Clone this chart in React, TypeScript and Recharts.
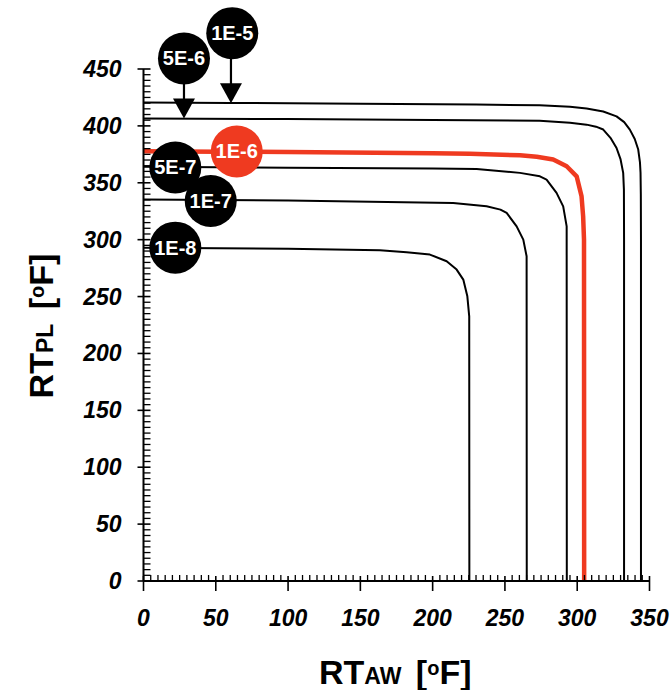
import React from 'react';
import { ComposedChart, Line, Scatter, XAxis, YAxis } from 'recharts';

// Limit curves: RT_PL versus RT_AW, one curve per frequency level
const curve1E5 = [
  { x: 0, y: 420.5 }, { x: 60, y: 420.2 }, { x: 150, y: 419.5 }, { x: 230, y: 418.8 },
  { x: 274, y: 418.1 }, { x: 295, y: 416.8 }, { x: 306.5, y: 415.2 }, { x: 318, y: 412.6 },
  { x: 327.2, y: 408.4 }, { x: 332.5, y: 403.3 }, { x: 336.4, y: 396.7 }, { x: 339.8, y: 388.5 },
  { x: 342.2, y: 379.2 }, { x: 343.4, y: 368 }, { x: 343.8, y: 358.7 }, { x: 344, y: 340 },
  { x: 344.1, y: 300 }, { x: 344.1, y: 0 },
];
const curve5E6 = [
  { x: 0, y: 406.4 }, { x: 100, y: 406 }, { x: 200, y: 405.2 }, { x: 274, y: 404.6 },
  { x: 295, y: 402.7 }, { x: 306.5, y: 401.1 }, { x: 313, y: 399.3 }, { x: 318, y: 396.8 },
  { x: 323.3, y: 389 }, { x: 327.2, y: 380.6 }, { x: 330, y: 370.5 }, { x: 331.8, y: 358.7 },
  { x: 332.3, y: 344 }, { x: 332.4, y: 300 }, { x: 332.4, y: 0 },
];
const curve1E6 = [
  { x: 0, y: 377.7 }, { x: 100, y: 377 }, { x: 200, y: 376 }, { x: 225.8, y: 375.6 },
  { x: 260.4, y: 374.1 }, { x: 272, y: 372.8 }, { x: 283.4, y: 370.4 }, { x: 292.7, y: 364.5 },
  { x: 299.6, y: 355.7 }, { x: 303, y: 338.1 }, { x: 304.1, y: 320.5 }, { x: 304.7, y: 300 },
  { x: 304.8, y: 0 },
];
const curve5E7 = [
  { x: 0, y: 364 }, { x: 100, y: 363.3 }, { x: 200, y: 362.6 }, { x: 230.4, y: 362.2 },
  { x: 260.4, y: 358.7 }, { x: 274.2, y: 355.7 }, { x: 278.8, y: 352.8 }, { x: 285.7, y: 341.1 },
  { x: 290.3, y: 329.3 }, { x: 292.7, y: 311.7 }, { x: 292.8, y: 0 },
];
const curve1E7 = [
  { x: 0, y: 335.2 }, { x: 100, y: 334.5 }, { x: 214.2, y: 332.3 }, { x: 237.3, y: 329.3 },
  { x: 246.9, y: 326.4 }, { x: 251.2, y: 323.5 }, { x: 258.1, y: 311.7 }, { x: 262.7, y: 300 },
  { x: 265, y: 285.4 }, { x: 265.1, y: 0 },
];
const curve1E8 = [
  { x: 0, y: 293 }, { x: 100, y: 292 }, { x: 163.5, y: 290.6 }, { x: 182, y: 288.9 },
  { x: 198.1, y: 286.9 }, { x: 209.7, y: 281 }, { x: 216.6, y: 273.7 }, { x: 221.2, y: 264.9 },
  { x: 224, y: 250.2 }, { x: 225.3, y: 232.6 }, { x: 225.4, y: 0 },
];

// Curve labels and the point on each curve they mark
const badgeLabels = ['1E-5', '5E-6', '1E-6', '5E-7', '1E-7', '1E-8'];
const badgeX = [60.5, 28, 64.5, 22, 46.5, 22];
const badgeY = [420, 406.5, 377.5, 363.5, 334, 293];

const xMajorTicks = [0, 50, 100, 150, 200, 250, 300, 350];
const yMajorTicks = [0, 50, 100, 150, 200, 250, 300, 350, 400, 450];
const minorStep = 5;

const xTicks = Array.from({ length: 350 / minorStep + 1 }, (_, i) => i * minorStep);
const yTicks = Array.from({ length: 450 / minorStep + 1 }, (_, i) => i * minorStep);

const RED = '#ef3a20';
const FONT = '"Liberation Sans", Arial, Helvetica, sans-serif';

const badges = badgeLabels.map((label, i) => ({ x: badgeX[i], y: badgeY[i], label }));

// Badges drawn with a pointer arrow rise above the curve (pixels)
const arrowRise: Record<string, number> = { '1E-5': 70, '5E-6': 60 };

const XTick = (props: any) => {
  const { x, y, payload } = props;
  const v = payload.value;
  if (xMajorTicks.includes(v)) {
    return (
      <g>
        <line x1={x} x2={x} y1={y - 5} y2={y + 10} stroke="#000" strokeWidth={1.6} />
        <text x={x} y={y + 45} textAnchor="middle" fontFamily={FONT} fontWeight="bold"
          fontStyle="italic" fontSize={23} fill="#000">{v}</text>
      </g>
    );
  }
  return <line x1={x} x2={x} y1={y} y2={y - 6} stroke="#000" strokeWidth={1.3} />;
};

const YTick = (props: any) => {
  const { x, y, payload } = props;
  const v = payload.value;
  if (yMajorTicks.includes(v)) {
    return (
      <g>
        <line x1={x - 6} x2={x + 7} y1={y} y2={y} stroke="#000" strokeWidth={1.6} />
        <text x={x - 22} y={y + 8} textAnchor="end" fontFamily={FONT} fontWeight="bold"
          fontStyle="italic" fontSize={23} fill="#000">{v}</text>
      </g>
    );
  }
  return <line x1={x} x2={x + 7} y1={y} y2={y} stroke="#000" strokeWidth={1.3} />;
};

const Badge = (props: any) => {
  const { cx, cy, payload } = props;
  if (cx == null || cy == null) return <g />;
  const label: string = payload.label;
  const red = label === '1E-6';
  const rise = arrowRise[label];
  const r = 26;
  if (rise) {
    const ccx = cx + (label === '1E-5' ? 1.3 : 0);
    const ccy = cy - rise;
    return (
      <g>
        <line x1={cx} x2={cx} y1={ccy} y2={cy - 18} stroke="#000" strokeWidth={2.2} />
        <polygon points={`${cx - 11},${cy - 20} ${cx + 11},${cy - 20} ${cx},${cy}`} fill="#000" />
        <circle cx={ccx} cy={ccy} r={r} fill="#000" />
        <text x={ccx} y={ccy + 7} textAnchor="middle" fontFamily={FONT} fontWeight="bold"
          fontSize={20} fill="#fff">{label}</text>
      </g>
    );
  }
  return (
    <g>
      <circle cx={cx} cy={cy} r={r} fill={red ? RED : '#000'} />
      <text x={cx} y={cy + 7} textAnchor="middle" fontFamily={FONT} fontWeight="bold"
        fontSize={20} fill="#fff">{label}</text>
    </g>
  );
};

const XTitle = () => (
  <text x={319} y={684} fontFamily={FONT} fontWeight="bold" fontSize={34} fill="#000">
    RT<tspan fontSize={23}>AW</tspan>
    <tspan dx={5}> [</tspan>
    <tspan fontSize={20} dy={-9}>o</tspan>
    <tspan dy={9}>F]</tspan>
  </text>
);

const YTitle = () => (
  <text x={53} y={326} textAnchor="middle" transform="rotate(-90 53 326)" fontFamily={FONT}
    fontWeight="bold" fontSize={34} fill="#000">
    RT<tspan fontSize={23}>PL</tspan>
    <tspan dx={5}> [</tspan>
    <tspan fontSize={20} dy={-9}>o</tspan>
    <tspan dy={9}>F]</tspan>
  </text>
);

const series = [
  { key: '1E-8', data: curve1E8, color: '#000', width: 2 },
  { key: '1E-7', data: curve1E7, color: '#000', width: 2 },
  { key: '5E-7', data: curve5E7, color: '#000', width: 2 },
  { key: '5E-6', data: curve5E6, color: '#000', width: 2 },
  { key: '1E-5', data: curve1E5, color: '#000', width: 2 },
  { key: '1E-6', data: curve1E6, color: RED, width: 4.5 },
];

export default function App() {
  return (
    <div style={{ position: 'absolute', left: 0, top: 0, width: 672, height: 690, background: '#fff' }}>
      <ComposedChart width={672} height={690} margin={{ top: 69, right: 22.5, left: 0, bottom: 0 }}>
        <XAxis
          type="number"
          dataKey="x"
          domain={[0, 350]}
          ticks={xTicks}
          interval={0}
          tickSize={0}
          tickMargin={0}
          tickLine={false}
          tick={<XTick />}
          height={109}
          axisLine={{ stroke: '#000', strokeWidth: 2 }}
          label={{ content: () => <XTitle /> }}
        />
        <YAxis
          type="number"
          domain={[0, 450]}
          ticks={yTicks}
          interval={0}
          tickSize={0}
          tickMargin={0}
          tickLine={false}
          tick={<YTick />}
          width={143.5}
          axisLine={{ stroke: '#000', strokeWidth: 2 }}
          label={{ content: () => <YTitle /> }}
        />
        {series.map((s) => (
          <Line
            key={s.key}
            data={s.data}
            dataKey="y"
            type="linear"
            stroke={s.color}
            strokeWidth={s.width}
            strokeLinejoin="round"
            dot={false}
            activeDot={false}
            isAnimationActive={false}
          />
        ))}
        <Scatter data={badges} dataKey="y" shape={<Badge />} isAnimationActive={false} />
      </ComposedChart>
    </div>
  );
}
